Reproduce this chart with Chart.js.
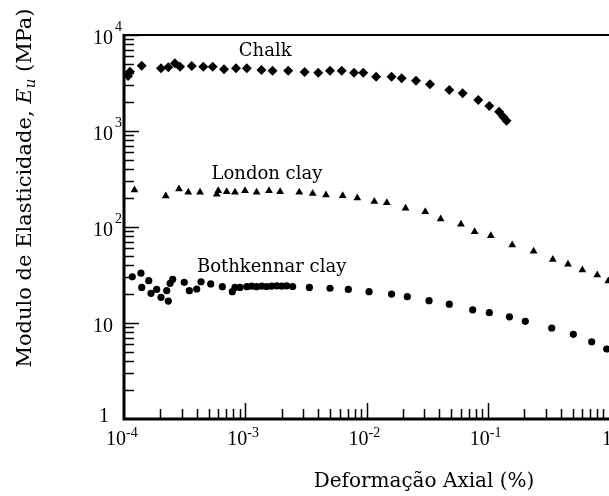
<!DOCTYPE html>
<html>
<head>
<meta charset="utf-8">
<script src="https://cdn.jsdelivr.net/npm/chart.js@4.4.0/dist/chart.umd.min.js"></script>
<style>
  body { margin: 0; background: #fff; }
  #wrap { width: 609px; height: 496px; }
</style>
</head>
<body>
<div id="wrap"><canvas id="chart" width="609" height="496"></canvas></div>
<script>
// Valores (deformação axial em %, módulo em MPa)
const chalkX = [1.08e-4, 1.12e-4, 1.40e-4, 2.02e-4, 2.32e-4, 2.63e-4, 2.90e-4, 3.62e-4, 4.51e-4, 5.39e-4, 6.68e-4, 8.39e-4,
  1.03e-3, 1.36e-3, 1.68e-3, 2.26e-3, 3.09e-3, 4.00e-3, 5.00e-3, 6.24e-3, 7.89e-3, 9.4e-3, 1.20e-2, 1.61e-2, 1.95e-2,
  2.56e-2, 3.34e-2, 4.82e-2, 6.21e-2, 8.36e-2, 0.103, 0.124, 0.134, 0.143];
const chalkY = [3750, 4150, 4790, 4500, 4610, 5070, 4680, 4750, 4680, 4680, 4390, 4500,
  4500, 4320, 4250, 4250, 4120, 4050, 4250, 4250, 4050, 4050, 3680, 3680, 3540,
  3340, 3060, 2670, 2470, 2100, 1820, 1590, 1410, 1280];

const londonX = [1.22e-4, 2.21e-4, 2.84e-4, 3.39e-4, 4.24e-4, 5.82e-4, 5.99e-4, 7.03e-4, 8.23e-4, 9.95e-4, 1.24e-3,
  1.57e-3, 1.94e-3, 2.79e-3, 3.60e-3, 4.63e-3, 6.36e-3, 8.40e-3, 1.16e-2, 1.47e-2, 2.10e-2, 3.05e-2, 4.09e-2,
  6.01e-2, 7.80e-2, 0.106, 0.159, 0.239, 0.344, 0.459, 0.603, 0.80, 0.987];
const londonY = [243, 210, 249, 230, 230, 219, 239, 233, 230, 239, 230,
  239, 233, 230, 224, 215, 212, 200, 184, 179, 157, 144, 121,
  107, 89, 81, 65, 56, 46, 41, 35.6, 31.6, 27.4];

const bothX = [1.17e-4, 1.38e-4, 1.40e-4, 1.60e-4, 1.67e-4, 1.86e-4, 2.02e-4, 2.32e-4, 2.25e-4, 2.40e-4, 2.52e-4,
  3.14e-4, 3.46e-4, 3.98e-4, 4.32e-4, 5.19e-4, 6.47e-4, 7.82e-4, 8.23e-4, 9.05e-4, 1.03e-3, 1.13e-3, 1.24e-3,
  1.37e-3, 1.50e-3, 1.65e-3, 1.82e-3, 2.00e-3, 2.20e-3, 2.46e-3, 3.38e-3, 5.00e-3, 7.08e-3, 1.05e-2, 1.61e-2,
  2.17e-2, 3.28e-2, 4.82e-2, 7.51e-2, 0.103, 0.151, 0.204, 0.337, 0.508, 0.720, 0.957];
const bothY = [30.3, 33.0, 23.5, 27.6, 20.4, 22.4, 18.5, 16.9, 21.7, 25.9, 28.5,
  26.5, 21.7, 22.6, 26.9, 25.5, 23.9, 21.2, 23.5, 23.5, 23.9, 24.2, 23.9,
  24.2, 24.0, 24.2, 24.4, 24.2, 24.4, 24.0, 23.5, 23.0, 22.4, 21.2, 20.0,
  18.8, 17.1, 15.7, 13.7, 12.8, 11.6, 10.4, 8.87, 7.63, 6.38, 5.36];

// Rótulos das curvas (posição em coordenadas de dados)
const curveNames = ['Chalk', 'London clay', 'Bothkennar clay'];
const curveLabelX = [1.46e-3, 1.51e-3, 1.65e-3];
const curveLabelY = [6700, 356, 38.3];

const xExponents = [-4, -3, -2, -1, 0];
const yExponents = [0, 1, 2, 3, 4];

const toPoints = (xs, ys) => xs.map((x, i) => ({ x: x, y: ys[i] }));

// Eixos, marcas e textos desenhados à mão (expoentes em sobrescrito)
const logAxes = {
    id: 'logAxes',
    afterDraw(chart) {
        const ctx = chart.ctx;
        const sx = chart.scales.x;
        const sy = chart.scales.y;
        const { left, right, top, bottom } = chart.chartArea;

        ctx.save();
        ctx.strokeStyle = '#000';
        ctx.fillStyle = '#000';

        // moldura
        ctx.lineWidth = 2;
        ctx.beginPath();
        ctx.moveTo(left, top);
        ctx.lineTo(right, top);
        ctx.stroke();
        ctx.lineWidth = 3;
        ctx.beginPath();
        ctx.moveTo(left, top - 1);
        ctx.lineTo(left, bottom);
        ctx.lineTo(right, bottom);
        ctx.stroke();

        // marcas internas
        ctx.lineWidth = 1.5;
        for (let e = -4; e < 0; e++) {
            for (let m = 1; m < 10; m++) {
                if (e === -4 && m === 1) continue;
                const px = Math.round(sx.getPixelForValue(m * Math.pow(10, e))) + 0.5;
                const len = m === 1 ? 16 : 10;
                ctx.beginPath();
                ctx.moveTo(px, bottom);
                ctx.lineTo(px, bottom - len);
                ctx.stroke();
            }
        }
        for (let e = 0; e < 4; e++) {
            for (let m = 1; m < 10; m++) {
                if (e === 0 && m === 1) continue;
                const py = Math.round(sy.getPixelForValue(m * Math.pow(10, e))) + 0.5;
                const len = m === 1 ? 15 : 10;
                ctx.beginPath();
                ctx.moveTo(left, py);
                ctx.lineTo(left + len, py);
                ctx.stroke();
            }
        }
        const pyTop = sy.getPixelForValue(1e4);
        ctx.beginPath();
        ctx.moveTo(left, pyTop + 0.5);
        ctx.lineTo(left + 15, pyTop + 0.5);
        ctx.stroke();

        // rótulos do eixo x
        ctx.textBaseline = 'middle';
        xExponents.forEach(e => {
            const px = sx.getPixelForValue(Math.pow(10, e));
            ctx.font = '20px "Liberation Serif"';
            ctx.textAlign = 'right';
            if (e === 0) {
                ctx.fillText('1', px + 3, bottom + 21);
                return;
            }
            ctx.fillText('10', px + 2, bottom + 21);
            ctx.font = '14px "Liberation Serif"';
            ctx.textAlign = 'left';
            ctx.fillText('-' + Math.abs(e), px + 2, bottom + 14);
        });

        // rótulos do eixo y
        yExponents.forEach(e => {
            const py = sy.getPixelForValue(Math.pow(10, e));
            ctx.font = '20px "Liberation Serif"';
            ctx.textAlign = 'right';
            if (e === 0) {
                ctx.fillText('1', left - 15, py - 2);
                return;
            }
            ctx.fillText('10', left - 11, py + 4);
            if (e > 1) {
                ctx.font = '14px "Liberation Serif"';
                ctx.textAlign = 'left';
                ctx.fillText(String(e), left - 9, py - 8);
            }
        });

        // nomes das curvas
        ctx.font = '18px "DejaVu Serif"';
        ctx.textAlign = 'center';
        curveNames.forEach((name, i) => {
            ctx.fillText(name, sx.getPixelForValue(curveLabelX[i]), sy.getPixelForValue(curveLabelY[i]));
        });

        // título do eixo x
        ctx.font = '20px "DejaVu Serif"';
        ctx.fillText('Deformação Axial (%)', 424, 482);

        // título do eixo y (rotacionado, com E_u em itálico)
        ctx.translate(31, 188);
        ctx.rotate(-Math.PI / 2);
        ctx.textAlign = 'left';
        ctx.textBaseline = 'alphabetic';
        const parts = [
            { t: 'Modulo de Elasticidade, ', f: '21px "DejaVu Serif"', dy: 0 },
            { t: 'E', f: 'italic 21px "DejaVu Serif"', dy: 0 },
            { t: 'u', f: 'italic 15px "DejaVu Serif"', dy: 4 },
            { t: ' (MPa)', f: '21px "DejaVu Serif"', dy: 0 }
        ];
        let total = 0;
        parts.forEach(p => { ctx.font = p.f; p.w = ctx.measureText(p.t).width; total += p.w; });
        let cx = -total / 2;
        parts.forEach(p => {
            ctx.font = p.f;
            ctx.fillText(p.t, cx, p.dy);
            cx += p.w;
        });
        ctx.restore();
    }
};

new Chart(document.getElementById('chart').getContext('2d'), {
    type: 'scatter',
    data: {
        datasets: [
            {
                label: 'Chalk',
                data: toPoints(chalkX, chalkY),
                pointStyle: 'rectRot',
                pointRadius: 5,
                backgroundColor: '#000',
                borderColor: '#000',
                borderWidth: 0
            },
            {
                label: 'London clay',
                data: toPoints(londonX, londonY),
                pointStyle: 'triangle',
                pointRadius: 4.5,
                backgroundColor: '#000',
                borderColor: '#000',
                borderWidth: 0
            },
            {
                label: 'Bothkennar clay',
                data: toPoints(bothX, bothY),
                pointStyle: 'circle',
                pointRadius: 3.6,
                backgroundColor: '#000',
                borderColor: '#000',
                borderWidth: 0
            }
        ]
    },
    options: {
        responsive: false,
        animation: false,
        layout: { autoPadding: false, padding: { top: 35, right: 0, left: 0, bottom: 0 } },
        plugins: {
            legend: { display: false },
            tooltip: { enabled: false }
        },
        scales: {
            x: {
                type: 'logarithmic',
                min: 1e-4,
                max: 1,
                ticks: { display: false },
                grid: { display: false, drawTicks: false },
                border: { display: false },
                afterFit(scale) { scale.height = 77; }
            },
            y: {
                type: 'logarithmic',
                min: 1,
                max: 1e4,
                ticks: { display: false },
                grid: { display: false, drawTicks: false },
                border: { display: false },
                afterFit(scale) { scale.width = 124; }
            }
        }
    },
    plugins: [logAxes]
});
</script>
</body>
</html>
